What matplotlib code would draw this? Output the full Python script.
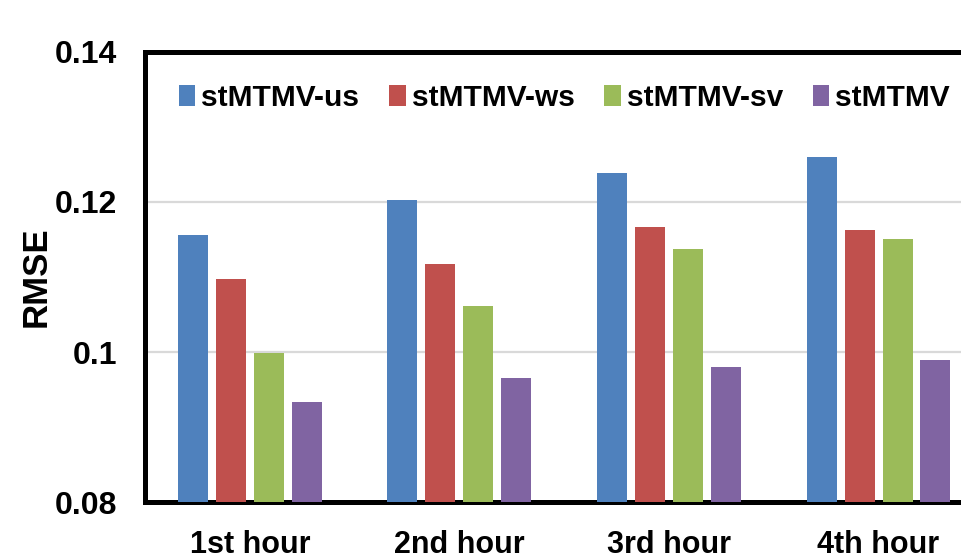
import matplotlib
matplotlib.use("Agg")
import matplotlib.pyplot as plt
import numpy as np

# Data
categories = ["1st hour", "2nd hour", "3rd hour", "4th hour"]
series_names = ["stMTMV-us", "stMTMV-ws", "stMTMV-sv", "stMTMV"]
rmse_us = [0.1156, 0.1202, 0.1238, 0.1260]
rmse_ws = [0.1097, 0.1117, 0.1167, 0.1163]
rmse_sv = [0.0999, 0.1062, 0.1137, 0.1151]
rmse_st = [0.0933, 0.0966, 0.0980, 0.0990]
y_ticks = [0.08, 0.10, 0.12, 0.14]
y_tick_labels = ["0.08", "0.1", "0.12", "0.14"]

colors = ["#4F81BD", "#C0504D", "#9BBB59", "#8064A2"]
FONT = ["Liberation Sans", "DejaVu Sans"]

fig = plt.figure(figsize=(9.62, 5.6), dpi=100)
ax = fig.add_axes([0.1507, 0.1030, 0.8715, 0.8046])

x = np.arange(len(categories))
bar_w = 0.143
step = 0.181
offsets = (np.arange(4) - 1.5) * step
all_series = [rmse_us, rmse_ws, rmse_sv, rmse_st]
handles = []
for vals, off, col, name in zip(all_series, offsets, colors, series_names):
    h = ax.bar(x + off, vals, width=bar_w, color=col, label=name, zorder=3)
    handles.append(h)

ax.set_xlim(-0.5, 3.5)
ax.set_ylim(0.08, 0.14)
ax.set_yticks(y_ticks)
ax.set_yticklabels(y_tick_labels)
ax.set_xticks(x)
ax.set_xticklabels(categories)

for lab in ax.get_yticklabels():
    lab.set_fontfamily(FONT)
    lab.set_fontweight("bold")
    lab.set_fontsize(23)
for lab in ax.get_xticklabels():
    lab.set_fontfamily(FONT)
    lab.set_fontweight("bold")
    lab.set_fontsize(22)

ax.tick_params(axis="y", length=0, pad=20)
ax.tick_params(axis="x", length=0, pad=20)

# light horizontal gridlines
ax.yaxis.grid(True, color="#d9d9d9", linewidth=1.6, zorder=0)
ax.set_axisbelow(True)

for side in ["left", "bottom", "top"]:
    ax.spines[side].set_linewidth(3.6)
    ax.spines[side].set_color("black")
ax.spines["right"].set_visible(False)

ax.set_ylabel("RMSE", fontsize=25, fontweight="bold", family=FONT)
ax.yaxis.set_label_coords(-0.11, 0.5)

leg = ax.legend(handles=handles, labels=series_names, ncol=4, frameon=False,
                loc="center left", bbox_to_anchor=(179 / 962, 1 - 98 / 560),
                bbox_transform=fig.transFigure, borderaxespad=0, borderpad=0,
                handlelength=0.55, handleheight=0.69, handletextpad=0.2,
                columnspacing=1.0,
                prop={"family": FONT, "weight": "bold", "size": 21.5})

fig.savefig("out.png", dpi=100)
